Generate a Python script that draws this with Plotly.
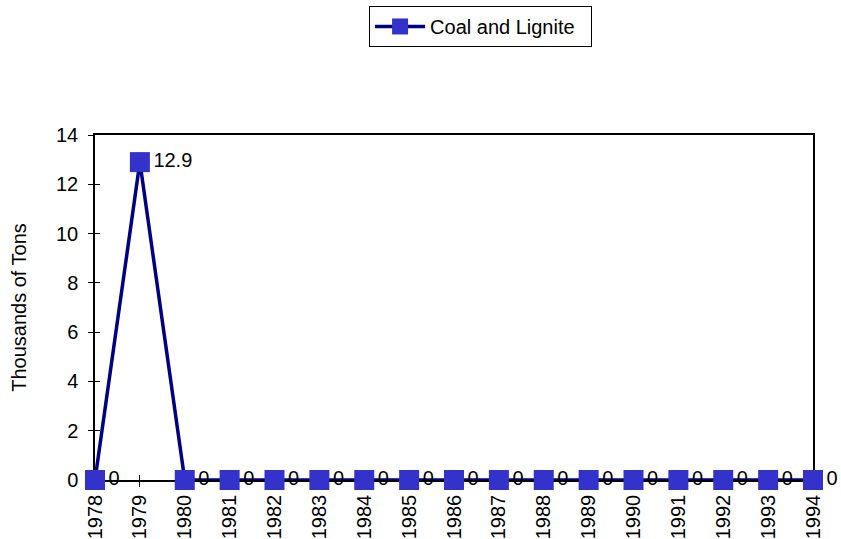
import plotly.graph_objects as go

years = [str(y) for y in range(1978, 1995)]
values = [0, 12.9, 0, 0, 0, 0, 0, 0, 0, 0, 0, 0, 0, 0, 0, 0, 0]
labels = ["0", "12.9"] + ["0"] * 15
series_name = "Coal and Lignite"
y_ticks = [0, 2, 4, 6, 8, 10, 12, 14]

FS = 20
font = dict(family="Arial, Liberation Sans", size=FS, color="black")

fig = go.Figure()
fig.add_trace(go.Scatter(
    x=list(range(len(years))), y=values, mode="lines+markers+text",
    name=series_name + "\u00a0\u00a0", text=labels, textposition="middle right",
    textfont=font,
    line=dict(color="#000080", width=3.5),
    marker=dict(symbol="square", size=20, color="#3333CC", line=dict(width=0)),
    cliponaxis=False,
))
# invisible trace on overlay axes to get crossing tick marks
fig.add_trace(go.Scatter(x=[0], y=[0], xaxis="x2", yaxis="y2", mode="markers",
                         marker=dict(opacity=0), showlegend=False, hoverinfo="skip"))

fig.update_layout(
    width=841, height=539,
    margin=dict(l=95, r=28, t=135, b=59, autoexpand=False),
    paper_bgcolor="white", plot_bgcolor="white",
    font=font,
    showlegend=True,
    legend=dict(x=0.537, y=1.374, xanchor="center", yanchor="top", itemwidth=50,
                bordercolor="black", borderwidth=1, bgcolor="white",
                font=font),
    xaxis=dict(range=[0, 16], tickmode="array", tickvals=list(range(len(years))),
               ticktext=years, tickangle=-90, ticks="outside", ticklen=5,
               tickcolor="black", showline=True, linecolor="black", linewidth=1.5,
               mirror=True, showgrid=False, zeroline=False, tickfont=font,
               layer="below traces"),
    yaxis=dict(range=[0, 14], tickvals=y_ticks, ticks="outside", ticklen=5,
               tickcolor="black", showline=True, linecolor="black", linewidth=1.5,
               mirror=True, showgrid=False, zeroline=False, tickfont=font,
               ticklabelstandoff=6, layer="below traces",
               title=dict(text="Thousands of Tons", font=font, standoff=24)),
    xaxis2=dict(overlaying="x", range=[0, 16], tickvals=list(range(len(years))),
                showticklabels=False, ticks="inside", ticklen=5, tickcolor="black",
                showgrid=False, zeroline=False, showline=False, side="bottom",
                layer="below traces"),
    yaxis2=dict(overlaying="y", range=[0, 14], tickvals=y_ticks,
                showticklabels=False, ticks="inside", ticklen=5, tickcolor="black",
                showgrid=False, zeroline=False, showline=False, side="left",
                layer="below traces"),
)
fig.write_html("out.html", config={"displayModeBar": False},
               post_script="document.body.style.margin='0';document.body.style.overflow='hidden';")
